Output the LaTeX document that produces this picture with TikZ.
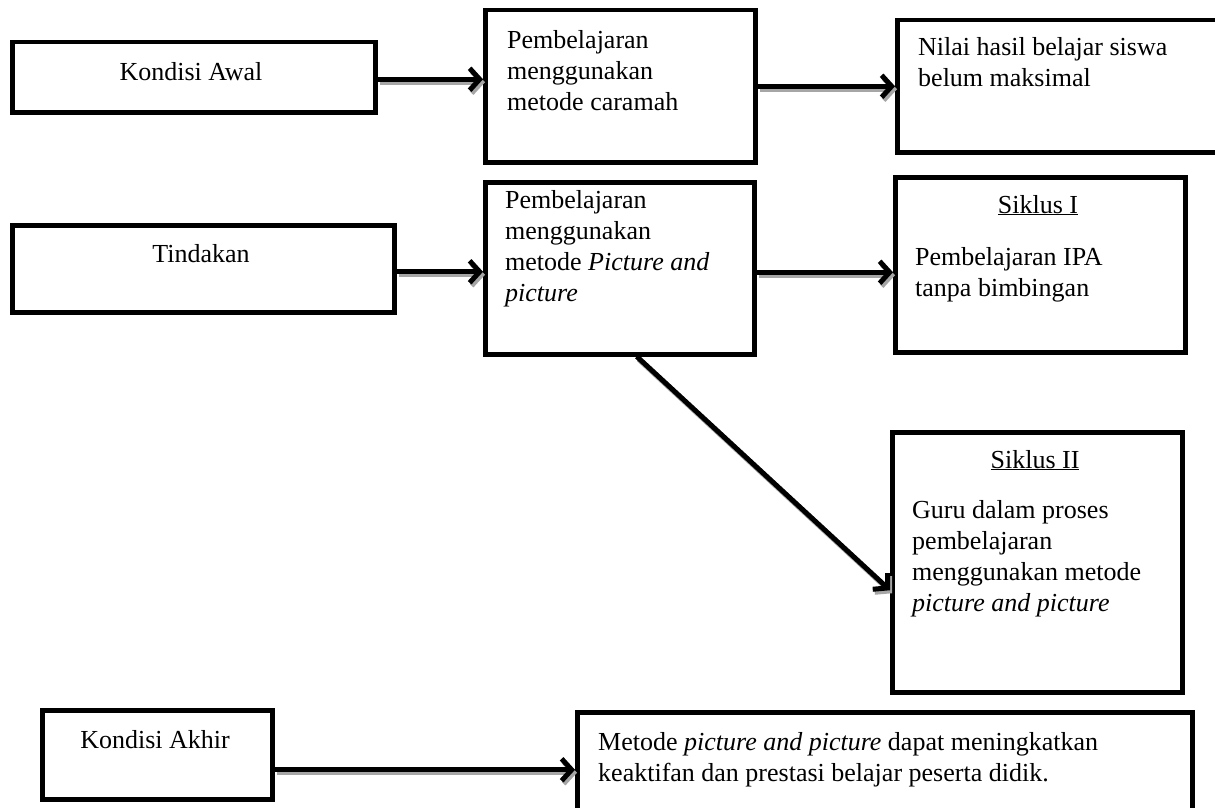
\documentclass[tikz,border=0pt]{standalone}
\usepackage{fontspec}
\setmainfont{Liberation Serif}
\usetikzlibrary{arrows.meta}
\begin{document}
\begin{tikzpicture}[x=1pt,y=-1pt,
  box/.style={draw=black, line width=4.5pt, fill=white, inner sep=0pt, anchor=north west},
  txt/.style={anchor=north west, inner sep=0pt, align=left, font=\fontsize{26}{31}\selectfont},
  ctxt/.style={anchor=base, inner sep=0pt, font=\fontsize{26}{31}\selectfont},
  conn/.style={line width=5pt, -{Straight Barb[length=10pt,width=22pt]}},
  connshadow/.style={conn, draw=black!35, transform canvas={shift={(2pt,-3pt)}}}
]
\useasboundingbox (0,0) rectangle (1215,808);
\clip (0,0) rectangle (1215,808);

% boxes
\node[box, minimum width=363pt, minimum height=70pt] (A) at (10,40) {};
\node[box, minimum width=270pt, minimum height=152pt] (B) at (483,8) {};
\node[box, minimum width=340pt, minimum height=132pt] (C) at (895,18) {};
\node[box, minimum width=382pt, minimum height=87pt] (D) at (10,223) {};
\node[box, minimum width=269pt, minimum height=172pt] (E) at (483,180) {};
\node[box, minimum width=290pt, minimum height=175pt] (F) at (893,175) {};
\node[box, minimum width=290pt, minimum height=260pt] (G) at (890,430) {};
\node[box, minimum width=230pt, minimum height=89pt] (H) at (40,708) {};
\node[box, minimum width=615pt, minimum height=130pt] (I) at (575,710) {};

% texts
\node[ctxt] (At) at (191,81) {Kondisi Awal};
\node[txt] (Bt) at (507,30) {Pembelajaran\\menggunakan\\metode caramah};
\node[txt] (Ct) at (918,37) {Nilai hasil belajar siswa\\belum maksimal};
\node[ctxt] (Dt) at (201,262) {Tindakan};
\node[txt] (Et) at (505,190) {Pembelajaran\\menggunakan\\metode \textit{Picture and}\\\textit{picture}};
\node[ctxt] (Fh) at (1038,213) {\underline{Siklus I}};
\node[txt] (Ft) at (915,247) {Pembelajaran IPA\\tanpa bimbingan};
\node[ctxt] (Gh) at (1035,468) {\underline{Siklus II}};
\node[txt] (Gt) at (912,500) {Guru dalam proses\\pembelajaran\\menggunakan metode\\\textit{picture and picture}};
\node[ctxt] (Ht) at (155,748) {Kondisi Akhir};
\node[txt] (It) at (598,732) {Metode \textit{picture and picture} dapat meningkatkan\\keaktifan dan prestasi belajar peserta didik.};

% connector shadows
\draw[connshadow] ([yshift=-2pt]A.east) -- ([yshift=-2pt]A.east -| B.west);
\draw[connshadow] (B.east) -- (B.east -| C.west);
\draw[connshadow] ([yshift=-3pt]D.east) -- ([yshift=-3pt]D.east -| E.west);
\draw[connshadow] ([yshift=-4pt]E.east) -- ([yshift=-4pt]E.east -| F.west);
\draw[connshadow] ([xshift=17pt]E.south) -- ([yshift=-28pt]G.west);
\draw[connshadow] ([yshift=-15pt]H.east) -- ([yshift=-15pt]H.east -| I.west);
% connectors
\draw[conn] ([yshift=-2pt]A.east) -- ([yshift=-2pt]A.east -| B.west);
\draw[conn] (B.east) -- (B.east -| C.west);
\draw[conn] ([yshift=-3pt]D.east) -- ([yshift=-3pt]D.east -| E.west);
\draw[conn] ([yshift=-4pt]E.east) -- ([yshift=-4pt]E.east -| F.west);
\draw[conn] ([xshift=17pt]E.south) -- ([yshift=-28pt]G.west);
\draw[conn] ([yshift=-15pt]H.east) -- ([yshift=-15pt]H.east -| I.west);
\end{tikzpicture}
\end{document}
